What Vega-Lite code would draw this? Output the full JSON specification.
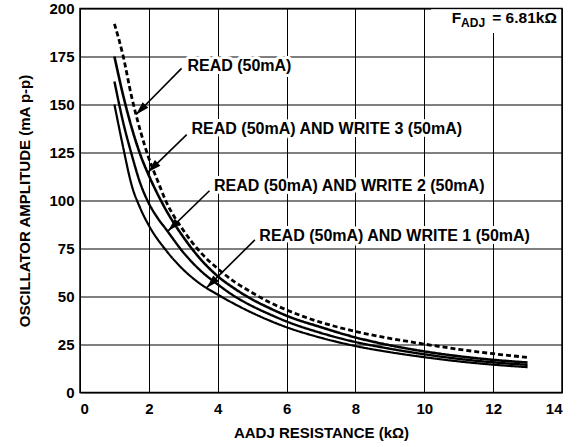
{
  "$schema": "https://vega.github.io/schema/vega-lite/v6.json",
  "width": 482,
  "height": 384,
  "autosize": {"type": "none"},
  "padding": {"left": 80, "top": 8.5, "right": 15, "bottom": 54.5},
  "background": "white",
  "config": {
    "font": "Liberation Sans",
    "view": {"stroke": "black", "strokeWidth": 1.5},
    "axis": {
      "grid": true, "gridColor": "black", "gridOpacity": 1, "gridWidth": 1,
      "domain": false, "ticks": false,
      "labelFont": "Liberation Sans", "labelFontWeight": "bold", "labelFontSize": 15, "labelColor": "black",
      "titleFont": "Liberation Sans", "titleFontWeight": "bold", "titleFontSize": 15, "titleColor": "black"
    }
  },
  "datasets": {
    "curves": [
      {"series": "READ", "x": 1, "y": 192}, {"series": "READ", "x": 1.25, "y": 175.5}, {"series": "READ", "x": 1.5, "y": 154}, {"series": "READ", "x": 1.75, "y": 136.5}, {"series": "READ", "x": 2, "y": 122}, {"series": "READ", "x": 2.25, "y": 110.5}, {"series": "READ", "x": 2.5, "y": 99.5}, {"series": "READ", "x": 3, "y": 84.5}, {"series": "READ", "x": 3.5, "y": 73}, {"series": "READ", "x": 4, "y": 64.5}, {"series": "READ", "x": 4.5, "y": 57.5}, {"series": "READ", "x": 5, "y": 52}, {"series": "READ", "x": 5.5, "y": 47}, {"series": "READ", "x": 6, "y": 43}, {"series": "READ", "x": 6.5, "y": 39.5}, {"series": "READ", "x": 7, "y": 36.5}, {"series": "READ", "x": 7.5, "y": 34}, {"series": "READ", "x": 8, "y": 31.8}, {"series": "READ", "x": 9, "y": 28.2}, {"series": "READ", "x": 10, "y": 25.2}, {"series": "READ", "x": 11, "y": 22.5}, {"series": "READ", "x": 12, "y": 20.2}, {"series": "READ", "x": 13, "y": 18.3},
      {"series": "W3", "x": 1, "y": 175}, {"series": "W3", "x": 1.25, "y": 155}, {"series": "W3", "x": 1.5, "y": 138}, {"series": "W3", "x": 1.75, "y": 124}, {"series": "W3", "x": 2, "y": 113}, {"series": "W3", "x": 2.25, "y": 103.5}, {"series": "W3", "x": 2.5, "y": 95}, {"series": "W3", "x": 3, "y": 81}, {"series": "W3", "x": 3.5, "y": 69.5}, {"series": "W3", "x": 4, "y": 60.6}, {"series": "W3", "x": 4.5, "y": 54}, {"series": "W3", "x": 5, "y": 48.5}, {"series": "W3", "x": 5.5, "y": 44}, {"series": "W3", "x": 6, "y": 40}, {"series": "W3", "x": 7, "y": 34}, {"series": "W3", "x": 8, "y": 28.7}, {"series": "W3", "x": 9, "y": 24.6}, {"series": "W3", "x": 10, "y": 21.4}, {"series": "W3", "x": 11, "y": 18.9}, {"series": "W3", "x": 12, "y": 17}, {"series": "W3", "x": 13, "y": 15.6},
      {"series": "W2", "x": 1, "y": 162}, {"series": "W2", "x": 1.25, "y": 141}, {"series": "W2", "x": 1.5, "y": 124}, {"series": "W2", "x": 1.75, "y": 109}, {"series": "W2", "x": 2, "y": 98.5}, {"series": "W2", "x": 2.25, "y": 91}, {"series": "W2", "x": 2.5, "y": 85}, {"series": "W2", "x": 3, "y": 73}, {"series": "W2", "x": 3.5, "y": 63.5}, {"series": "W2", "x": 4, "y": 56.3}, {"series": "W2", "x": 4.5, "y": 50}, {"series": "W2", "x": 5, "y": 45}, {"series": "W2", "x": 5.5, "y": 40.8}, {"series": "W2", "x": 6, "y": 37}, {"series": "W2", "x": 7, "y": 31}, {"series": "W2", "x": 8, "y": 26.3}, {"series": "W2", "x": 9, "y": 22.8}, {"series": "W2", "x": 10, "y": 19.9}, {"series": "W2", "x": 11, "y": 17.5}, {"series": "W2", "x": 12, "y": 15.7}, {"series": "W2", "x": 13, "y": 14.4},
      {"series": "W1", "x": 1, "y": 150}, {"series": "W1", "x": 1.25, "y": 128}, {"series": "W1", "x": 1.5, "y": 108}, {"series": "W1", "x": 1.75, "y": 96}, {"series": "W1", "x": 2, "y": 87}, {"series": "W1", "x": 2.5, "y": 74}, {"series": "W1", "x": 3, "y": 64}, {"series": "W1", "x": 3.5, "y": 56.5}, {"series": "W1", "x": 4, "y": 51}, {"series": "W1", "x": 4.5, "y": 46}, {"series": "W1", "x": 5, "y": 41.5}, {"series": "W1", "x": 5.5, "y": 37.5}, {"series": "W1", "x": 6, "y": 34}, {"series": "W1", "x": 7, "y": 28.5}, {"series": "W1", "x": 8, "y": 24.2}, {"series": "W1", "x": 9, "y": 21}, {"series": "W1", "x": 10, "y": 18.4}, {"series": "W1", "x": 11, "y": 16.2}, {"series": "W1", "x": 12, "y": 14.5}, {"series": "W1", "x": 13, "y": 13.2}
    ],
    "notes": [
      {"label": "READ (50mA)", "tx": 3.12, "ty": 170.3, "sx": 2.95, "sy": 168.8, "ax": 1.63, "ay": 144.8},
      {"label": "READ (50mA) AND WRITE 3 (50mA)", "tx": 3.24, "ty": 137, "sx": 3.1, "sy": 134.3, "ax": 1.98, "ay": 114.8},
      {"label": "READ (50mA) AND WRITE 2 (50mA)", "tx": 3.89, "ty": 107.7, "sx": 3.76, "sy": 105.1, "ax": 2.56, "ay": 84.2},
      {"label": "READ (50mA) AND WRITE 1 (50mA)", "tx": 5.21, "ty": 81.3, "sx": 5.08, "sy": 79.5, "ax": 3.68, "ay": 54.6}
    ]
  },
  "layer": [
    {
      "data": {"name": "curves"},
      "mark": {"type": "line", "interpolate": "monotone", "color": "black"},
      "encoding": {
        "x": {"field": "x", "type": "quantitative", "scale": {"domain": [0, 14], "nice": false},
              "axis": {"values": [0, 2, 4, 6, 8, 10, 12, 14], "title": "AADJ RESISTANCE (kΩ)", "labelPadding": 9, "titlePadding": 9}},
        "y": {"field": "y", "type": "quantitative", "scale": {"domain": [0, 200], "nice": false},
              "axis": {"values": [0, 25, 50, 75, 100, 125, 150, 175, 200], "title": "OSCILLATOR AMPLITUDE (mA p-p)", "labelPadding": 6, "titlePadding": 16}},
        "detail": {"field": "series"},
        "strokeDash": {"field": "series", "scale": {"domain": ["READ", "W3", "W2", "W1"], "range": [[5, 3], [1, 0], [1, 0], [1, 0]]}, "legend": null},
        "strokeWidth": {"field": "series", "scale": {"domain": ["READ", "W3", "W2", "W1"], "range": [2.8, 2.2, 1.5, 2.8]}, "legend": null}
      }
    },
    {
      "data": {"values": [{}]},
      "mark": {"type": "rect", "fill": "white"},
      "encoding": {
        "x": {"datum": 10.2, "type": "quantitative"},
        "x2": {"datum": 13.97},
        "y": {"datum": 187.2, "type": "quantitative"},
        "y2": {"datum": 199.6}
      }
    },
    {
      "data": {"values": [{"t": "F"}]},
      "mark": {"type": "text", "align": "left", "baseline": "middle", "fontSize": 15.5, "fontWeight": "bold", "color": "black"},
      "encoding": {"x": {"datum": 10.8, "type": "quantitative"}, "y": {"datum": 195, "type": "quantitative"}, "text": {"field": "t"}}
    },
    {
      "data": {"values": [{"t": "ADJ"}]},
      "mark": {"type": "text", "align": "left", "baseline": "middle", "fontSize": 12, "fontWeight": "bold", "color": "black"},
      "encoding": {"x": {"datum": 11.07, "type": "quantitative"}, "y": {"datum": 192.3, "type": "quantitative"}, "text": {"field": "t"}}
    },
    {
      "data": {"values": [{"t": "= 6.81kΩ"}]},
      "mark": {"type": "text", "align": "right", "baseline": "middle", "fontSize": 15.5, "fontWeight": "bold", "color": "black"},
      "encoding": {"x": {"datum": 13.85, "type": "quantitative"}, "y": {"datum": 195, "type": "quantitative"}, "text": {"field": "t"}}
    },
    {
      "data": {"name": "notes"},
      "mark": {"type": "text", "align": "left", "baseline": "middle", "fontSize": 16, "fontWeight": "bold", "stroke": "white", "strokeWidth": 6, "strokeJoin": "round", "fill": "white"},
      "encoding": {"x": {"field": "tx", "type": "quantitative"}, "y": {"field": "ty", "type": "quantitative"}, "text": {"field": "label"}}
    },
    {
      "data": {"name": "notes"},
      "mark": {"type": "text", "align": "left", "baseline": "middle", "fontSize": 16, "fontWeight": "bold", "color": "black"},
      "encoding": {"x": {"field": "tx", "type": "quantitative"}, "y": {"field": "ty", "type": "quantitative"}, "text": {"field": "label"}}
    },
    {
      "data": {"name": "notes"},
      "mark": {"type": "rule", "color": "black", "strokeWidth": 1.6},
      "encoding": {"x": {"field": "sx", "type": "quantitative"}, "y": {"field": "sy", "type": "quantitative"}, "x2": {"field": "ax"}, "y2": {"field": "ay"}}
    },
    {
      "data": {"name": "notes"},
      "transform": [{"calculate": "atan2((datum.ax - datum.sx) * 34.43, (datum.ay - datum.sy) * 1.92) * 180 / PI", "as": "ang"}],
      "mark": {"type": "point", "shape": "M0,0L-0.3,1L0.3,1Z", "filled": true, "color": "black", "opacity": 1, "size": 700},
      "encoding": {"x": {"field": "ax", "type": "quantitative"}, "y": {"field": "ay", "type": "quantitative"}, "angle": {"field": "ang", "type": "quantitative", "scale": null}}
    }
  ]
}
